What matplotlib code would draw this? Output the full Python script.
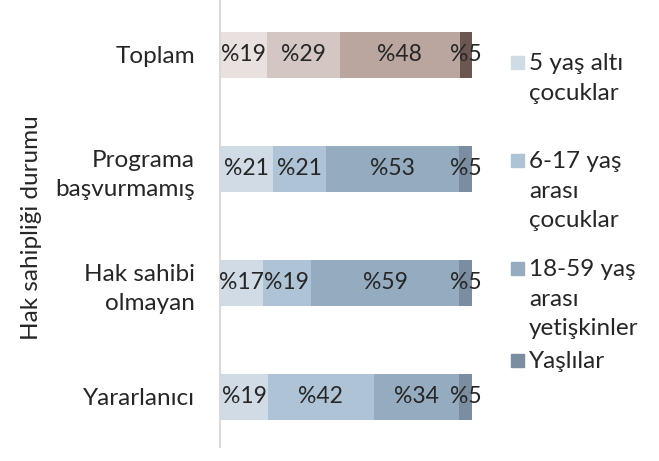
import numpy as np
import matplotlib.pyplot as plt
from matplotlib.patches import Rectangle

# veriler
kategoriler = ["Toplam", "Programa\nbaşvurmamış", "Hak sahibi\nolmayan", "Yararlanıcı"]
bes_alti = [19, 21, 17, 19]
alti_onyedi = [29, 21, 19, 42]
yetiskin = [48, 53, 59, 34]
yasli = [5, 5, 5, 5]
seri_adlari = ["5 yaş altı\nçocuklar", "6-17 yaş\narası\nçocuklar",
               "18-59 yaş\narası\nyetişkinler", "Yaşlılar"]

mavi = ["#D0DBE6", "#AFC3D6", "#94ABC0", "#7A8DA1"]
kahve = ["#E9E1DF", "#D4C6C2", "#BAA69F", "#6C5651"]

plt.rcParams['font.family'] = ['Lato', 'DejaVu Sans']
yazi = 17.5

fig = plt.figure(figsize=(6.59, 4.61), dpi=100)
ax = fig.add_axes([220/659, 14/461, (472-220)/659, 447/461])

seriler = np.array([bes_alti, alti_onyedi, yetiskin, yasli], dtype=float)
toplamlar = seriler.sum(axis=0)
oran = seriler / toplamlar  # %100 yigilmis

y = np.arange(len(kategoriler))
sol = np.zeros(len(kategoriler))
for i in range(len(seriler)):
    renkler = [kahve[i] if k == 0 else mavi[i] for k in range(len(kategoriler))]
    ax.barh(y, oran[i], left=sol, height=0.40, color=renkler, edgecolor='none')
    for k in range(len(kategoriler)):
        ax.text(sol[k] + oran[i][k] / 2, y[k], "%" + str(int(seriler[i][k])),
                ha='center', va='center', fontsize=16.5, color='#262626')
    sol += oran[i]

ax.set_xlim(0, 1)
ax.set_ylim(3.44, -0.48)
ax.set_yticks(y)
ax.set_yticklabels(kategoriler, fontsize=yazi, color='#262626', linespacing=1.5)
ax.tick_params(axis='y', length=0, pad=18)
ax.set_xticks([])
for s in ['top', 'right', 'bottom']:
    ax.spines[s].set_visible(False)
ax.spines['left'].set_color('#D9D9D9')
ax.spines['left'].set_linewidth(1.5)

fig.text(31/659, 1 - 228/461, "Hak sahipliği durumu", rotation=90,
         ha='center', va='center', fontsize=yazi, color='#262626')

# lejant
lejant_y = [62, 160, 268, 360]
for i, ad in enumerate(seri_adlari):
    fig.patches.append(Rectangle((511/659, 1 - (lejant_y[i] + 7)/461), 13/659, 13/461,
                                 transform=fig.transFigure, color=mavi[i]))
    fig.text(529/659, 1 - (lejant_y[i] - 9)/461, ad, ha='left', va='top',
             fontsize=yazi, color='#262626', linespacing=1.5)

fig.savefig("out.png", dpi=100)
